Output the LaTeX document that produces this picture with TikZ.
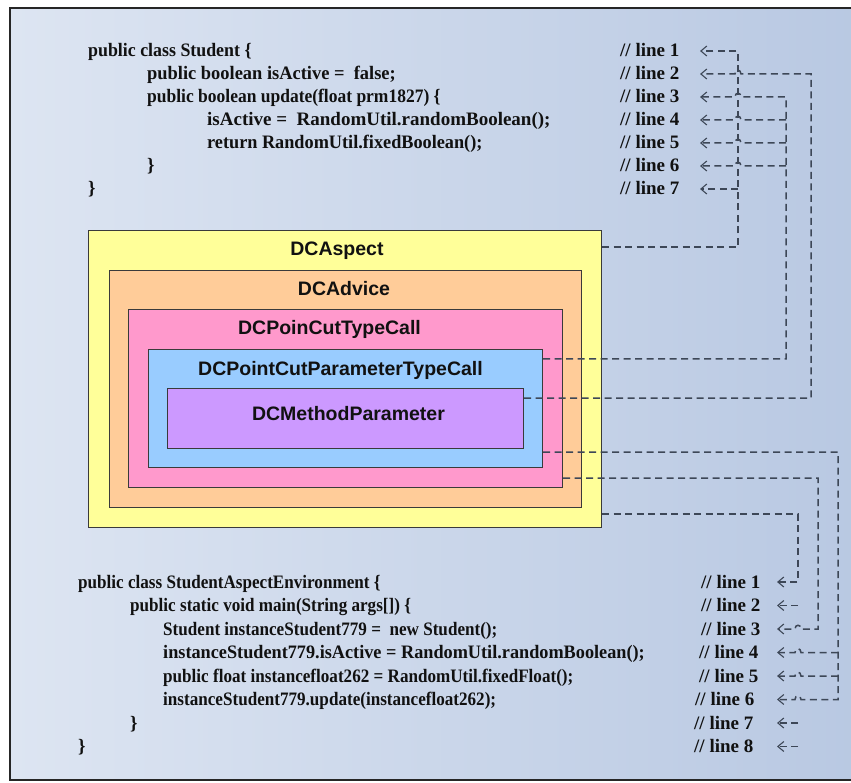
\documentclass[tikz,border=0pt]{standalone}
\usepackage{fontspec}
\usepackage{graphicx}
\setmainfont{Liberation Serif}
\newfontfamily\lblfont{Liberation Sans}
\usetikzlibrary{arrows.meta,calc}
\definecolor{bgL}{HTML}{DDE5F2}
\definecolor{bgR}{HTML}{B8C8E2}
\definecolor{yelC}{HTML}{FFFF99}
\definecolor{orgC}{HTML}{FFCC99}
\definecolor{pnkC}{HTML}{FF99CC}
\definecolor{bluC}{HTML}{99CCFF}
\definecolor{purC}{HTML}{CC99FF}
\definecolor{edgeC}{HTML}{3A3A3A}
\definecolor{connC}{HTML}{3D4757}
\definecolor{txtC}{HTML}{111111}
\newcommand{\sx}[2]{\scalebox{#1}[1]{#2}}
\begin{document}
\begin{tikzpicture}[x=1pt,y=-1pt,
  code/.style={anchor=west,inner sep=0pt,text height=12pt,text depth=0pt,font=\bfseries\fontsize{19}{22}\selectfont,text=txtC},
  boxnode/.style={draw=edgeC,line width=1.1pt,anchor=north west,inner sep=0pt},
  lbl/.style={anchor=base,inner sep=0pt,font=\lblfont\bfseries\fontsize{19.5}{22}\selectfont,text=txtC},
  conn/.style={draw=connC,line width=1.5pt,dash pattern=on 7pt off 4.5pt},
  tipped/.style={conn,-{Straight Barb[length=6pt,width=10pt,line width=1.1pt]}}
]
\useasboundingbox (0,0) rectangle (851,783);
\fill[white] (0,0) rectangle (851,783);
\shade[left color=bgL,right color=bgR] (10,8) rectangle (870,780);
\draw[line width=2.5pt,black!85] (10,8) rectangle (870,780);

% ---- top code: class Student
\node[code] (c1) at (88,51)  {\sx{0.94}{public class Student \{}};
\node[code] (c2) at (147,74) {\sx{0.97}{public boolean isActive = \ false;}};
\node[code] (c3) at (147,97) {\sx{0.92}{public boolean update(float prm1827) \{}};
\node[code] (c4) at (207,120) {\sx{1.0}{isActive = \ RandomUtil.randomBoolean();}};
\node[code] (c5) at (207,143) {\sx{0.96}{return RandomUtil.fixedBoolean();}};
\node[code] (c6) at (147,166) {\}};
\node[code] (c7) at (88,189)  {\}};
\foreach \k/\y in {1/51,2/74,3/97,4/120,5/143,6/166,7/189}
  \node[code] (t\k) at (620,\y) {// line \k};

% ---- bottom code: class StudentAspectEnvironment
\node[code] (d1) at (78,582)    {\sx{0.9}{public class StudentAspectEnvironment \{}};
\node[code] (d2) at (130,605.5) {\sx{0.9}{public static void main(String args[]) \{}};
\node[code] (d3) at (163,629)   {\sx{0.9}{Student instanceStudent779 = \ new Student();}};
\node[code] (d4) at (163,652.5) {\sx{0.96}{instanceStudent779.isActive = RandomUtil.randomBoolean();}};
\node[code] (d5) at (163,676)   {\sx{0.9}{public float instancefloat262 = RandomUtil.fixedFloat();}};
\node[code] (d6) at (163,699.5) {\sx{0.9}{instanceStudent779.update(instancefloat262);}};
\node[code] (d7) at (130,723)   {\}};
\node[code] (d8) at (78,746.5)  {\}};
\foreach \k/\x/\y in {1/701/582,2/701/605.5,3/701/629,4/699/652.5,5/699/676,6/695/699.5,7/694/723,8/694/746.5}
  \node[code] (b\k) at (\x,\y) {// line \k};

% ---- nested boxes
\node[boxnode,fill=yelC,minimum width=513pt,minimum height=297pt] (aspect) at (88,230) {};
\node[boxnode,fill=orgC,minimum width=472pt,minimum height=237pt] (advice) at (109,270) {};
\node[boxnode,fill=pnkC,minimum width=434pt,minimum height=178pt] (pcut)   at (128,309) {};
\node[boxnode,fill=bluC,minimum width=394pt,minimum height=118pt] (pparam) at (148,349) {};
\node[boxnode,fill=purC,minimum width=356pt,minimum height=60pt]  (mparam) at (167,388) {};
\node[lbl] (laspect) at (337,256) {DCAspect};
\node[lbl] (ladvice) at (344,296) {DCAdvice};
\node[lbl] (lpcut)   at (329.5,335) {DCPoinCutTypeCall};
\node[lbl] (lpparam) at (340.5,375) {DCPointCutParameterTypeCall};
\node[lbl] (lmparam) at (348.5,420) {DCMethodParameter};

% ---- connector columns
\coordinate (tipT) at (700,0);
\coordinate (vA) at (738,0);
\coordinate (vP) at (786,0);
\coordinate (vM) at (811,0);
\coordinate (tipB) at (777,0);
\coordinate (wA) at (798,0);
\coordinate (wC) at (818,0);
\coordinate (wP) at (838,0);

% top: DCAspect -> lines 1..7
\draw[tipped] ([yshift=-17pt]aspect.north east) -| (vA |- t1) -- (tipT |- t1);
\draw[tipped] (vA |- t7) -- (tipT |- t7);
% top: DCMethodParameter -> line 2
\draw[tipped] ([yshift=-10pt]mparam.north east) -| (vM |- t2)
  -- ($(vA |- t2)+(3,0)$) .. controls +(0,-5) and +(0,-5) .. ($(vA |- t2)+(-3,0)$) -- (tipT |- t2);
% top: DCPointCutParameterTypeCall -> lines 3..6
\draw[tipped] ([yshift=-10pt]pparam.north east) -| (vP |- t3)
  -- ($(vA |- t3)+(3,0)$) .. controls +(0,-5) and +(0,-5) .. ($(vA |- t3)+(-3,0)$) -- (tipT |- t3);
\foreach \k in {4,5,6}
  \draw[tipped] (vP |- t\k)
  -- ($(vA |- t\k)+(3,0)$) .. controls +(0,-5) and +(0,-5) .. ($(vA |- t\k)+(-3,0)$) -- (tipT |- t\k);

% bottom: DCAspect -> lines 1..8
\draw[tipped] ([yshift=-284pt]aspect.north east) -| (wA |- b1) -- (tipB |- b1);
\foreach \k in {2,7,8}
  \draw[tipped] (wA |- b\k) -- (tipB |- b\k);
% bottom: DCPoinCutTypeCall -> line 3
\draw[tipped] ([yshift=-169pt]pcut.north east) -| (wC |- b3)
  -- ($(wA |- b3)+(3,0)$) .. controls +(0,-5) and +(0,-5) .. ($(wA |- b3)+(-3,0)$) -- (tipB |- b3);
% bottom: DCPointCutParameterTypeCall -> lines 4..6
\draw[tipped] ([yshift=-103pt]pparam.north east) -| (wP |- b6)
  -- ($(wA |- b6)+(3,0)$) .. controls +(0,-5) and +(0,-5) .. ($(wA |- b6)+(-3,0)$) -- (tipB |- b6);
\foreach \k in {4,5}
  \draw[tipped] (wP |- b\k)
  -- ($(wA |- b\k)+(3,0)$) .. controls +(0,-5) and +(0,-5) .. ($(wA |- b\k)+(-3,0)$) -- (tipB |- b\k);
\end{tikzpicture}
\end{document}
